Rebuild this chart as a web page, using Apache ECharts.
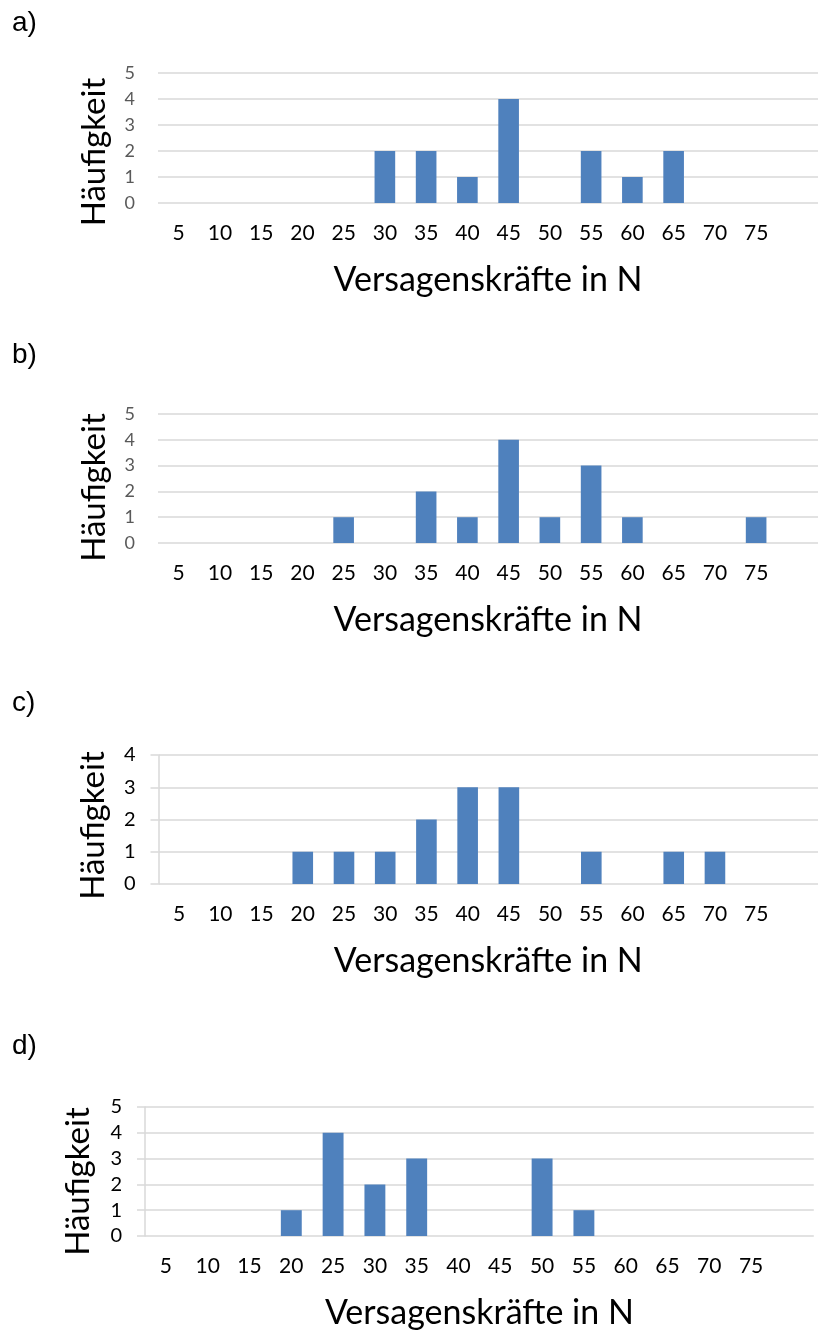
<!DOCTYPE html>
<html>
<head>
<meta charset="utf-8">
<script src="https://cdn.jsdelivr.net/npm/echarts@6/dist/echarts.min.js"></script>
<style>
html,body{margin:0;padding:0;background:#fff;}
#chart{width:818px;height:1331px;}
</style>
</head>
<body>
<div id="chart"></div>
<script>
// Categories (force bins in N); last slot is an empty bin drawn by the source chart
const categories = ['5','10','15','20','25','30','35','40','45','50','55','60','65','70','75',''];
// Frequencies per panel
const valuesA = [0,0,0,0,0,2,2,1,4,0,2,1,2,0,0];
const valuesB = [0,0,0,0,1,0,2,1,4,1,3,1,0,0,1];
const valuesC = [0,0,0,1,1,1,2,3,3,0,1,0,1,1,0];
const valuesD = [0,0,0,1,4,2,3,0,0,3,1,0,0,0,0];
const panelLabels = ['a)','b)','c)','d)'];
const yMaxes = [5,5,4,5];
const xTitle = 'Versagenskräfte in N';
const yTitle = 'Häufigkeit';

const seriesValues = [valuesA, valuesB, valuesC, valuesD];

// layout per panel
const layout = [
  {left:158, top:73,   height:130, yColor:'#595959', ySize:18, axisLine:false, yGap:47, shift:14, labelTop:9},
  {left:158, top:414,  height:129, yColor:'#595959', ySize:18, axisLine:false, yGap:47, shift:9,  labelTop:341},
  {left:158.5, top:755, height:129, yColor:'#000000', ySize:20, axisLine:true, yGap:49, shift:6,  labelTop:689},
  {left:145, top:1107, height:129, yColor:'#000000', ySize:20, axisLine:true, yGap:50, shift:10, labelTop:1032}
];
const bandW = 41.8;
const gridColor = '#D9D9D9';
const barColor = '#4F81BD';
const font = 'Lato';

const grids = [], xAxes = [], yAxes = [], series = [], titles = [];
layout.forEach((L, i) => {
  grids.push({left:L.left, top:L.top, width: bandW*categories.length, height:L.height, containLabel:false});
  xAxes.push({
    type:'category', gridIndex:i, data:categories,
    axisLine:{show:false}, axisTick:{show:false},
    axisLabel:{interval:0, color:'#000', fontFamily:font, fontSize:21, margin:20},
    name:xTitle, nameLocation:'middle', nameGap:60,
    nameTextStyle:{color:'#000', fontFamily:font, fontSize:34}
  });
  yAxes.push({
    type:'value', gridIndex:i, min:0, max:yMaxes[i], interval:1,
    axisLine:{show:L.axisLine, lineStyle:{color:gridColor, width:1.5}},
    axisTick:{show:L.axisLine, length:8, lineStyle:{color:gridColor, width:1.5}},
    splitLine:{show:true, lineStyle:{color:gridColor, width:1.5}},
    axisLabel:{color:L.yColor, fontFamily:font, fontSize:L.ySize, margin:23},
    name:yTitle, nameLocation:'middle', nameRotate:90, nameGap:L.yGap,
    nameTextStyle:{color:'#000', fontFamily:font, fontSize:33, padding:[0, L.shift*2, 0, 0]}
  });
  series.push({
    type:'bar', xAxisIndex:i, yAxisIndex:i, data:seriesValues[i],
    barWidth:'50%', itemStyle:{color:barColor}, silent:true
  });
  titles.push({text:panelLabels[i], left:12, top:L.labelTop, padding:0,
    textStyle:{fontFamily:'Liberation Sans', fontSize:28, fontWeight:'normal', color:'#000'}});
});

const chart = echarts.init(document.getElementById('chart'), null, {renderer:'canvas'});
chart.setOption({
  animation:false,
  backgroundColor:'#ffffff',
  title:titles,
  grid:grids, xAxis:xAxes, yAxis:yAxes, series:series
});
</script>
</body>
</html>
